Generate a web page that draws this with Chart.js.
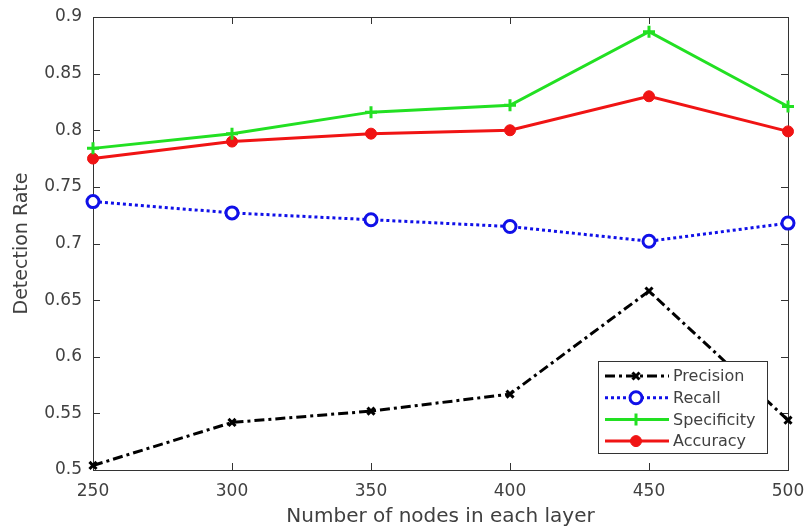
<!DOCTYPE html>
<html>
<head>
<meta charset="utf-8">
<script src="https://cdn.jsdelivr.net/npm/chart.js@4/dist/chart.umd.min.js"></script>
<style>
  html, body { margin: 0; padding: 0; background: #fff; }
  canvas { display: block; }
</style>
</head>
<body>
<canvas id="chart" width="806" height="527"></canvas>
<script>
// Data
const nodes = [250, 300, 350, 400, 450, 500];
const precision = [0.504, 0.542, 0.552, 0.567, 0.658, 0.544];
const recall = [0.737, 0.727, 0.721, 0.715, 0.702, 0.718];
const specificity = [0.784, 0.797, 0.816, 0.822, 0.887, 0.821];
const accuracy = [0.775, 0.790, 0.797, 0.800, 0.830, 0.799];
const xTicks = [250, 300, 350, 400, 450, 500];
const yTicks = [0.5, 0.55, 0.6, 0.65, 0.7, 0.75, 0.8, 0.85, 0.9];

const FONT = '"DejaVu Sans", Arial, sans-serif';
const TEXT = '#404040';

function pts(values) {
    return values.map((v, i) => ({ x: nodes[i], y: v }));
}

// Box around the axes with inward tick marks (MATLAB style)
const boxPlugin = {
    id: 'box',
    beforeDatasetsDraw(chart) {
        const { ctx, chartArea: a, scales } = chart;
        ctx.save();
        ctx.strokeStyle = '#333';
        ctx.lineWidth = 1;
        ctx.strokeRect(a.left + 0.5, a.top + 0.5, a.right - a.left, a.bottom - a.top);
        const len = 7;
        ctx.beginPath();
        xTicks.slice(1, -1).forEach(t => {
            const px = Math.round(scales.x.getPixelForValue(t)) + 0.5;
            ctx.moveTo(px, a.bottom); ctx.lineTo(px, a.bottom - len);
            ctx.moveTo(px, a.top); ctx.lineTo(px, a.top + len);
        });
        yTicks.slice(1, -1).forEach(t => {
            const py = Math.round(scales.y.getPixelForValue(t)) + 0.5;
            ctx.moveTo(a.left, py); ctx.lineTo(a.left + len, py);
            ctx.moveTo(a.right, py); ctx.lineTo(a.right - len, py);
        });
        ctx.stroke();
        ctx.restore();
    }
};

// Legend box inside the plot, lower right
const legendPlugin = {
    id: 'insideLegend',
    afterDraw(chart) {
        const { ctx } = chart;
        const x0 = 598, y0 = 361, w = 169, h = 92;
        ctx.save();
        ctx.fillStyle = '#fff';
        ctx.fillRect(x0, y0, w, h);
        ctx.strokeStyle = '#333';
        ctx.lineWidth = 1;
        ctx.strokeRect(x0 + 0.5, y0 + 0.5, w, h);
        chart.data.datasets.forEach((ds, i) => {
            const y = y0 + 15 + i * 21.7;
            ctx.strokeStyle = ds.borderColor;
            ctx.lineWidth = ds.borderWidth;
            ctx.setLineDash(ds.borderDash || []);
            ctx.beginPath();
            ctx.moveTo(x0 + 7, y);
            ctx.lineTo(x0 + 71, y);
            ctx.stroke();
            ctx.setLineDash([]);
            const opts = {
                pointStyle: ds.pointStyle,
                radius: ds.pointRadius,
                borderWidth: ds.pointBorderWidth,
                rotation: 0
            };
            ctx.strokeStyle = ds.pointBorderColor;
            ctx.fillStyle = ds.pointBackgroundColor;
            ctx.lineWidth = ds.pointBorderWidth;
            Chart.helpers.drawPoint(ctx, opts, x0 + 38, y);
            ctx.fillStyle = TEXT;
            ctx.font = '16px ' + FONT;
            ctx.textBaseline = 'middle';
            ctx.fillText(ds.label, x0 + 75, y + 1);
        });
        ctx.restore();
    }
};

new Chart(document.getElementById('chart'), {
    type: 'line',
    data: {
        datasets: [
            {
                label: 'Precision', data: pts(precision),
                borderColor: '#000', borderWidth: 3, borderDash: [10, 4, 3, 4],
                pointStyle: 'crossRot', pointRadius: 5, pointBorderWidth: 3,
                pointBorderColor: '#000', pointBackgroundColor: '#000'
            },
            {
                label: 'Recall', data: pts(recall),
                borderColor: '#1010e8', borderWidth: 3, borderDash: [3, 3],
                pointStyle: 'circle', pointRadius: 6, pointBorderWidth: 3,
                pointBorderColor: '#1010e8', pointBackgroundColor: '#fff'
            },
            {
                label: 'Specificity', data: pts(specificity),
                borderColor: '#22e022', borderWidth: 3,
                pointStyle: 'cross', pointRadius: 6, pointBorderWidth: 3,
                pointBorderColor: '#22e022', pointBackgroundColor: '#22e022'
            },
            {
                label: 'Accuracy', data: pts(accuracy),
                borderColor: '#f01414', borderWidth: 3,
                pointStyle: 'circle', pointRadius: 5.5, pointBorderWidth: 1,
                pointBorderColor: '#f01414', pointBackgroundColor: '#f01414'
            }
        ]
    },
    options: {
        responsive: false,
        animation: false,
        clip: false,
        layout: { padding: { top: 17, right: 18, left: 0, bottom: 0 } },
        plugins: {
            legend: { display: false },
            tooltip: { enabled: false }
        },
        elements: { line: { tension: 0, fill: false } },
        scales: {
            x: {
                type: 'linear', min: 250, max: 500,
                afterBuildTicks: s => { s.ticks = xTicks.map(v => ({ value: v })); },
                afterFit: s => { s.height = 57; s.paddingLeft = 0; s.paddingRight = 0; },
                grid: { display: false, drawTicks: false },
                border: { display: false },
                ticks: { padding: 11, color: TEXT, font: { family: FONT, size: 17 } },
                title: {
                    display: true, text: 'Number of nodes in each layer',
                    color: TEXT, font: { family: FONT, size: 20, lineHeight: 1 },
                    padding: { top: 0, bottom: 0 }
                }
            },
            y: {
                min: 0.5, max: 0.9,
                afterBuildTicks: s => { s.ticks = yTicks.map(v => ({ value: v })); },
                afterFit: s => { s.width = 93; s.paddingTop = 0; s.paddingBottom = 0; },
                grid: { display: false, drawTicks: false },
                border: { display: false },
                ticks: {
                    padding: 11, color: TEXT, font: { family: FONT, size: 17 },
                    callback: v => String(+v.toFixed(2))
                },
                title: {
                    display: true, text: 'Detection Rate',
                    color: TEXT, font: { family: FONT, size: 19 }, padding: { top: 11, bottom: 0 }
                }
            }
        }
    },
    plugins: [boxPlugin, legendPlugin]
});
</script>
</body>
</html>
